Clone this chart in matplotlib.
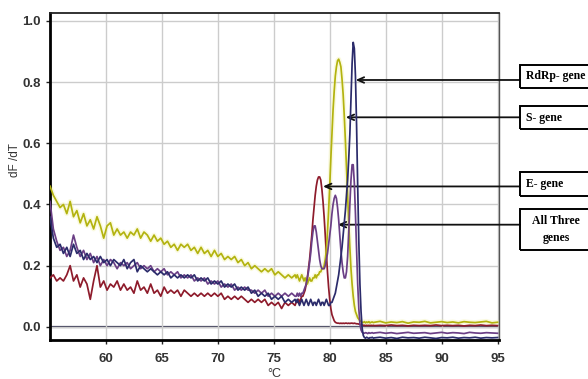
import numpy as np
import matplotlib

matplotlib.use("Agg")
import matplotlib.pyplot as plt
from matplotlib.patches import Rectangle

# temperature grid: coarse in the noisy baseline, fine around the melt peaks
temp_low = np.round(np.arange(55.0, 77.0, 0.3), 1)     # 74 points
temp_mid = np.round(np.arange(77.0, 83.95, 0.1), 1)    # 70 points
temp_high = np.arange(84.0, 95.01, 0.5)                # 23 points
temps = np.concatenate([temp_low, temp_mid, temp_high])

# S gene (yellow)
s_low = [0.46, 0.43, 0.41, 0.39, 0.40, 0.37, 0.41, 0.36, 0.38, 0.34,
         0.37, 0.33, 0.35, 0.32, 0.36, 0.33, 0.29, 0.33, 0.34, 0.30,
         0.32, 0.30, 0.31, 0.29, 0.31, 0.30, 0.32, 0.29, 0.31, 0.30,
         0.28, 0.30, 0.28, 0.29, 0.27, 0.28, 0.26, 0.27, 0.25, 0.27,
         0.26, 0.27, 0.25, 0.26, 0.24, 0.26, 0.24, 0.25, 0.23, 0.25,
         0.23, 0.24, 0.22, 0.23, 0.22, 0.23, 0.21, 0.22, 0.20, 0.21,
         0.19, 0.20, 0.19, 0.18, 0.19, 0.18, 0.19, 0.17, 0.18, 0.17,
         0.16, 0.17, 0.16, 0.17]
s_mid = [0.16, 0.17, 0.16, 0.15, 0.16, 0.17, 0.16, 0.15, 0.16, 0.15,
         0.14, 0.15, 0.16, 0.15, 0.15, 0.16, 0.16, 0.17, 0.16, 0.17,
         0.17, 0.18, 0.18, 0.19, 0.19, 0.20, 0.22, 0.25, 0.31, 0.38,
         0.46, 0.55, 0.63, 0.71, 0.77, 0.82, 0.85, 0.87, 0.875, 0.865,
         0.85, 0.81, 0.76, 0.69, 0.61, 0.52, 0.43, 0.34, 0.26, 0.19,
         0.14, 0.10, 0.07, 0.05, 0.04, 0.03, 0.025, 0.02, 0.017, 0.015,
         0.014, 0.017, 0.013, 0.016, 0.014, 0.017, 0.013, 0.015, 0.016, 0.014]
s_high = [0.015, 0.018, 0.013, 0.016, 0.014, 0.017, 0.012, 0.016, 0.015, 0.018,
          0.013, 0.015, 0.017, 0.014, 0.016, 0.013, 0.017, 0.015, 0.014, 0.016,
          0.018, 0.013, 0.015]

# RdRp gene (navy)
rdrp_low = [0.36, 0.29, 0.26, 0.27, 0.24, 0.26, 0.23, 0.27, 0.24, 0.25,
            0.22, 0.24, 0.22, 0.23, 0.21, 0.23, 0.21, 0.22, 0.20, 0.22,
            0.21, 0.20, 0.22, 0.19, 0.21, 0.22, 0.18, 0.20, 0.19, 0.18,
            0.19, 0.18, 0.17, 0.18, 0.17, 0.18, 0.16, 0.17, 0.16, 0.17,
            0.16, 0.17, 0.16, 0.17, 0.15, 0.16, 0.15, 0.16, 0.14, 0.15,
            0.14, 0.15, 0.13, 0.14, 0.13, 0.14, 0.12, 0.13, 0.12, 0.13,
            0.11, 0.12, 0.10, 0.11, 0.10, 0.11, 0.09, 0.10, 0.09, 0.10,
            0.08, 0.09, 0.08, 0.09]
rdrp_mid = [0.08, 0.09, 0.08, 0.07, 0.08, 0.09, 0.08, 0.07, 0.08, 0.09,
            0.08, 0.07, 0.08, 0.09, 0.08, 0.07, 0.08, 0.08, 0.07, 0.08,
            0.09, 0.08, 0.07, 0.08, 0.08, 0.07, 0.08, 0.09, 0.08, 0.07,
            0.07, 0.08, 0.08, 0.09, 0.10, 0.11, 0.13, 0.15, 0.17, 0.20,
            0.23, 0.26, 0.30, 0.34, 0.38, 0.43, 0.48, 0.55, 0.63, 0.74,
            0.86, 0.93, 0.91, 0.82, 0.66, 0.46, 0.28, 0.14, 0.05, -0.005,
            -0.028, -0.035, -0.037, -0.034, -0.036, -0.038, -0.035, -0.036, -0.034, -0.037]
rdrp_high = [-0.036, -0.034, -0.037, -0.035, -0.038, -0.034, -0.036, -0.035, -0.037, -0.034,
             -0.036, -0.038, -0.035, -0.036, -0.034, -0.037, -0.035, -0.036, -0.034, -0.037,
             -0.035, -0.036, -0.035]

# All three genes (purple)
all_low = [0.41, 0.32, 0.28, 0.25, 0.26, 0.23, 0.25, 0.30, 0.26, 0.23,
           0.25, 0.22, 0.24, 0.21, 0.23, 0.20, 0.22, 0.20, 0.22, 0.21,
           0.19, 0.21, 0.20, 0.21, 0.19, 0.20, 0.21, 0.19, 0.20, 0.19,
           0.20, 0.18, 0.19, 0.18, 0.19, 0.17, 0.18, 0.17, 0.18, 0.16,
           0.17, 0.16, 0.17, 0.15, 0.16, 0.15, 0.16, 0.14, 0.15, 0.14,
           0.15, 0.13, 0.14, 0.13, 0.14, 0.12, 0.13, 0.12, 0.13, 0.12,
           0.12, 0.11, 0.12, 0.11, 0.12, 0.10, 0.11, 0.10, 0.11, 0.10,
           0.11, 0.10, 0.11, 0.10]
all_mid = [0.10, 0.11, 0.10, 0.11, 0.10, 0.11, 0.11, 0.12, 0.13, 0.14,
           0.16, 0.18, 0.21, 0.24, 0.28, 0.31, 0.33, 0.33, 0.31, 0.28,
           0.25, 0.22, 0.20, 0.19, 0.19, 0.19, 0.20, 0.22, 0.24, 0.27,
           0.30, 0.33, 0.37, 0.40, 0.42, 0.43, 0.42, 0.39, 0.35, 0.30,
           0.25, 0.21, 0.18, 0.16, 0.16, 0.18, 0.23, 0.31, 0.40, 0.48,
           0.53, 0.53, 0.47, 0.37, 0.25, 0.14, 0.06, 0.01, -0.01, -0.018,
           -0.02, -0.021, -0.019, -0.02, -0.022, -0.019, -0.021, -0.02, -0.019, -0.021]
all_high = [-0.02, -0.018, -0.021, -0.019, -0.022, -0.02, -0.018, -0.021, -0.02, -0.019,
            -0.022, -0.02, -0.018, -0.021, -0.019, -0.02, -0.022, -0.018, -0.02, -0.021,
            -0.019, -0.02, -0.021]

# E gene (red)
e_low = [0.16, 0.17, 0.15, 0.16, 0.15, 0.17, 0.20, 0.15, 0.17, 0.13,
         0.16, 0.14, 0.09, 0.15, 0.20, 0.13, 0.15, 0.12, 0.14, 0.13,
         0.15, 0.12, 0.14, 0.12, 0.13, 0.11, 0.15, 0.12, 0.13, 0.11,
         0.14, 0.11, 0.12, 0.10, 0.13, 0.11, 0.12, 0.11, 0.12, 0.10,
         0.12, 0.11, 0.10, 0.11, 0.10, 0.11, 0.10, 0.11, 0.10, 0.11,
         0.10, 0.11, 0.09, 0.10, 0.09, 0.10, 0.09, 0.10, 0.09, 0.08,
         0.09, 0.08, 0.09, 0.08, 0.09, 0.07, 0.08, 0.07, 0.08, 0.06,
         0.08, 0.07, 0.08, 0.07]
e_mid = [0.08, 0.08, 0.09, 0.08, 0.09, 0.10, 0.10, 0.11, 0.12, 0.14,
         0.16, 0.19, 0.22, 0.26, 0.30, 0.35, 0.39, 0.43, 0.46, 0.48,
         0.49, 0.49, 0.48, 0.45, 0.41, 0.36, 0.30, 0.24, 0.18, 0.13,
         0.09, 0.06, 0.04, 0.03, 0.02, 0.015, 0.013, 0.012, 0.012, 0.011,
         0.012, 0.011, 0.012, 0.011, 0.012, 0.012, 0.011, 0.012, 0.011, 0.012,
         0.012, 0.011, 0.012, 0.011, 0.010, 0.010, 0.009, 0.008, 0.007, 0.006,
         0.005, 0.005, 0.004, 0.005, 0.004, 0.005, 0.004, 0.005, 0.004, 0.005]
e_high = [0.004, 0.005, 0.004, 0.006, 0.004, 0.005, 0.003, 0.005, 0.004, 0.005,
          0.004, 0.006, 0.004, 0.005, 0.004, 0.005, 0.003, 0.005, 0.004, 0.006,
          0.004, 0.005, 0.004]

s_gene = s_low + s_mid + s_high
rdrp_gene = rdrp_low + rdrp_mid + rdrp_high
all_genes = all_low + all_mid + all_high
e_gene = e_low + e_mid + e_high

x_ticks = [60, 65, 70, 75, 80, 85, 90, 95]
y_ticks = [0.0, 0.2, 0.4, 0.6, 0.8, 1.0]

# callouts: label, arrow tip (data), box top/bottom in image pixels
labels = ["RdRp- gene", "S- gene", "E- gene", "All Three\ngenes"]
arrow_tips = [(82.32, 0.807), (81.43, 0.685), (79.40, 0.459), (80.72, 0.334)]
box_rows = [(65, 88), (106, 129), (172, 196), (209, 250)]

W, H = 588, 379
fig = plt.figure(figsize=(W / 100, H / 100), dpi=100)
fig.patch.set_facecolor("white")
ax = fig.add_axes([50 / W, 1 - 340 / H, 449 / W, 327 / H])

ax.grid(True, color="#cccccc", lw=1.0, zorder=0)
ax.axhline(0, color="#3a3a55", lw=1.6, zorder=1.5)

ax.plot(temps, s_gene, color="#f3f3b0", lw=3.5, alpha=0.4, zorder=2)
ax.plot(temps, e_gene, color="#8e1b2b", lw=1.25, zorder=3)
ax.plot(temps, s_gene, color="#b3b30f", lw=1.25, zorder=3)
ax.plot(temps, all_genes, color="#6b3f86", lw=1.25, zorder=4)
ax.plot(temps, rdrp_gene, color="#2b2b6b", lw=1.25, zorder=5)

ax.set_xlim(55, 95.13)
ax.set_ylim(-0.043, 1.026)
ax.set_xticks(x_ticks)
ax.set_yticks(y_ticks)
ax.set_yticklabels([f"{v:.1f}" for v in y_ticks])
ax.tick_params(direction="out", length=3, width=1, colors="#222222", labelsize=9.5)
ax.tick_params(axis="x", pad=6)
for lab in ax.get_xticklabels() + ax.get_yticklabels():
    lab.set_fontfamily("Liberation Sans")
    lab.set_fontweight("bold")
    lab.set_color("#333333")

ax.spines["left"].set_linewidth(2)
ax.spines["bottom"].set_linewidth(2)
ax.spines["top"].set_linewidth(1.3)
ax.spines["top"].set_color("#222222")
ax.spines["right"].set_linewidth(1)
ax.spines["right"].set_color("#555555")

ax.set_ylabel("dF /dT", fontsize=8.5, color="#333333", fontfamily="Liberation Sans")
ax.yaxis.set_label_coords(-0.065, 0.55)
ax.set_xlabel("°C", fontsize=9, color="#333333", fontfamily="Liberation Sans")
ax.xaxis.set_label_coords(0.5, -0.085)

fig.canvas.draw()
for label, tip, (top, bot) in zip(labels, arrow_tips, box_rows):
    tip_px = ax.transData.transform(tip)
    ax.annotate("", xy=tip, xycoords="data",
                xytext=(520, tip_px[1]), textcoords="figure pixels",
                arrowprops=dict(arrowstyle="->,head_length=0.45,head_width=0.2",
                                color="#111111", lw=1.3, shrinkA=0, shrinkB=0),
                annotation_clip=False)
    fig.patches.append(Rectangle((520 / W, 1 - bot / H), 200 / W, (bot - top) / H,
                                 transform=fig.transFigure, fill=False,
                                 edgecolor="black", lw=1.4))
    cy = 1 - (top + bot) / 2 / H
    if "\n" in label:
        fig.text(556 / W, cy, label, ha="center", va="center", fontsize=8.5,
                 fontweight="bold", fontfamily="Liberation Serif", linespacing=1.45)
    else:
        fig.text(526 / W, cy, label, ha="left", va="center", fontsize=8.5,
                 fontweight="bold", fontfamily="Liberation Serif")

fig.savefig("out.png", dpi=100, facecolor="white")
